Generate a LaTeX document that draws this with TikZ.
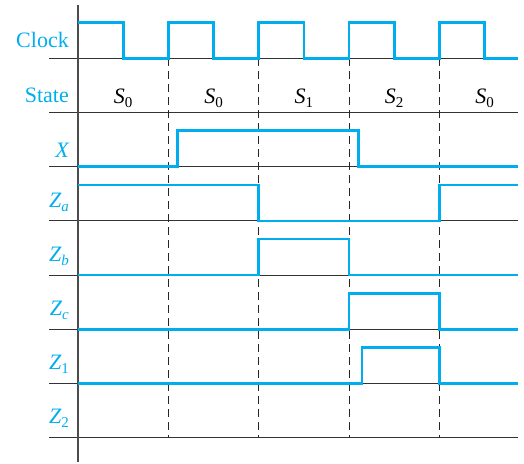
\documentclass[tikz,border=0pt]{standalone}
\usepackage{fontspec}
\setmainfont{Liberation Serif}
\definecolor{sigblue}{RGB}{0,174,239}
\newcommand{\lo}[1]{\raisebox{-4pt}{\fontsize{15}{16}\selectfont #1}}
\tikzset{
  wave/.style={sigblue, line width=2.6pt, line join=miter},
  rowline/.style={black!80, line width=0.9pt},
  tickline/.style={black!85, line width=0.9pt, dash pattern=on 8pt off 5pt},
  rowlabel/.style={sigblue, anchor=base east, inner sep=0pt, font=\fontsize{22}{24}\selectfont},
  statelabel/.style={anchor=base, inner sep=0pt, font=\fontsize{22}{24}\selectfont}
}

\begin{document}
\begin{tikzpicture}[x=1pt,y=-1pt]
  \useasboundingbox (0,0) rectangle (524,463);
  % rows and axis
  \foreach \y in {58.3,112.5,166.7,220.9,275.1,329.3,383.5,437.7}
    \draw[rowline] (49,\y) -- (518,\y);
  \draw[black!70, line width=1.3pt] (78,5) -- (78,462);
  \foreach \t in {168.3,258.7,349,439.3}
    \draw[tickline] (\t,58.3) -- (\t,437.7);
  % labels
  \node[rowlabel] (clk) at (69,47) {Clock};
  \node[rowlabel] (st) at (69,102) {State};
  \node[rowlabel] (x) at (69,157) {\itshape X};
  \node[rowlabel] (za) at (69,207) {\itshape Z\lo{a}};
  \node[rowlabel] (zb) at (69,261) {\itshape Z\lo{b}};
  \node[rowlabel] (zc) at (69,315) {\itshape Z\lo{c}};
  \node[rowlabel] (z1) at (69,369.5) {\itshape Z\lo{\upshape 1}};
  \node[rowlabel] (z2) at (69,423.7) {\itshape Z\lo{\upshape 2}};
  \node[statelabel] (s0a) at (123.2,103) {\itshape S\lo{\upshape 0}};
  \node[statelabel] (s0b) at (213.5,103) {\itshape S\lo{\upshape 0}};
  \node[statelabel] (s1) at (303.8,103) {\itshape S\lo{\upshape 1}};
  \node[statelabel] (s2) at (394.2,103) {\itshape S\lo{\upshape 2}};
  \node[statelabel] (s0c) at (484.5,103) {\itshape S\lo{\upshape 0}};
  % waveforms
  \draw[wave] (78,22.3) -- (123.2,22.3) -- (123.2,58.3) -- (168.3,58.3) -- (168.3,22.3)
    -- (213.5,22.3) -- (213.5,58.3) -- (258.7,58.3) -- (258.7,22.3) -- (303.8,22.3)
    -- (303.8,58.3) -- (349,58.3) -- (349,22.3) -- (394.2,22.3) -- (394.2,58.3)
    -- (439.3,58.3) -- (439.3,22.3) -- (484.5,22.3) -- (484.5,58.3) -- (518,58.3);
  \draw[wave] (78,166.7) -- (177.5,166.7) -- (177.5,130.7) -- (358.5,130.7) -- (358.5,166.7) -- (518,166.7);
  \draw[wave] (78,184.9) -- (258.7,184.9) -- (258.7,220.9) -- (439.3,220.9) -- (439.3,184.9) -- (518,184.9);
  \draw[wave] (78,275.1) -- (258.7,275.1) -- (258.7,239.1) -- (349,239.1) -- (349,275.1) -- (518,275.1);
  \draw[wave] (78,329.3) -- (349,329.3) -- (349,293.3) -- (439.3,293.3) -- (439.3,329.3) -- (518,329.3);
  \draw[wave] (78,383.5) -- (362,383.5) -- (362,347.5) -- (439.3,347.5) -- (439.3,383.5) -- (518,383.5);
\end{tikzpicture}
\end{document}
